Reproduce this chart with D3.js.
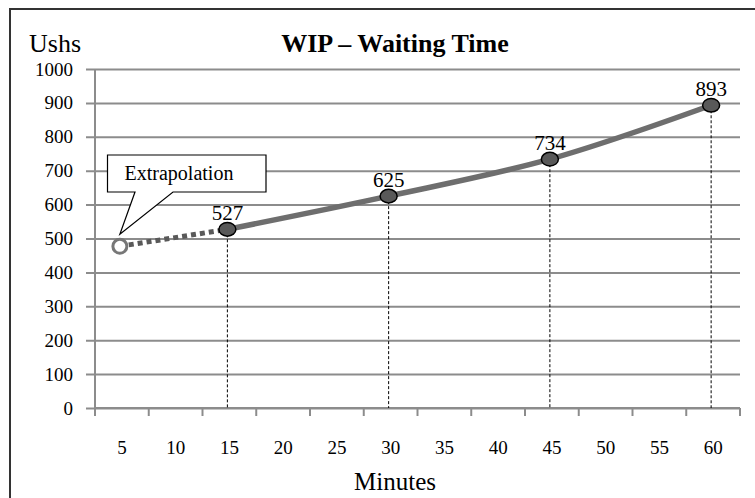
<!DOCTYPE html>
<html>
<head>
<meta charset="utf-8">
<script src="https://cdn.jsdelivr.net/npm/d3@7"></script>
<style>
  body { margin: 0; background: #fff; }
  text { font-family: "Liberation Serif", "Times New Roman", serif; fill: #000; }
</style>
</head>
<body>
<div id="chart"></div>
<script>
// x categories (minutes) and measured points
const minutes = [5, 10, 15, 20, 25, 30, 35, 40, 45, 50, 55, 60];
const pointMinutes = [15, 30, 45, 60];
const pointValues = [527, 625, 734, 893];
// extrapolated start point
const extraMinutes = [5];
const extraValues = [477];
const yTicks = [0, 100, 200, 300, 400, 500, 600, 700, 800, 900, 1000];

const width = 755, height = 498;
const margin = { left: 95, right: 15, top: 69, bottom: 90 };

const svg = d3.select("#chart")
  .append("svg")
  .attr("width", width)
  .attr("height", height);

// outer frame (right and bottom run off the picture)
svg.append("rect")
  .attr("x", 10).attr("y", 9)
  .attr("width", 800).attr("height", 600)
  .attr("fill", "none")
  .attr("stroke", "#333")
  .attr("stroke-width", 2);

const x = d3.scaleBand()
  .domain(minutes)
  .range([margin.left, width - margin.right]);
const y = d3.scaleLinear()
  .domain([0, 1000])
  .range([height - margin.bottom, margin.top]);

const cx = d => x(d) + x.bandwidth() / 2 - 2;

// horizontal gridlines + y ticks
const yAxis = svg.append("g")
  .attr("transform", `translate(${margin.left},0)`)
  .call(d3.axisLeft(y).tickValues(yTicks).tickFormat(d3.format("d")).tickSize(9).tickPadding(13));
yAxis.select(".domain").remove();
yAxis.selectAll(".tick line")
  .attr("stroke", "#8c8c8c").attr("stroke-width", 2)
  .attr("x1", -9)
  .attr("x2", width - margin.right - margin.left);
yAxis.selectAll(".tick text")
  .attr("font-size", 19)
  .attr("font-family", "Liberation Serif, serif");

// y axis line
svg.append("line")
  .attr("x1", margin.left).attr("x2", margin.left)
  .attr("y1", y(1000)).attr("y2", y(0))
  .attr("stroke", "#8c8c8c").attr("stroke-width", 2);

// x axis with ticks between categories
const xAxisG = svg.append("g");
xAxisG.append("line")
  .attr("x1", margin.left).attr("x2", width - margin.right)
  .attr("y1", y(0)).attr("y2", y(0))
  .attr("stroke", "#8c8c8c").attr("stroke-width", 2);
xAxisG.selectAll(".xtick")
  .data(minutes.concat(["end"]))
  .join("line")
  .attr("class", "xtick")
  .attr("x1", d => d === "end" ? width - margin.right : x(d))
  .attr("x2", d => d === "end" ? width - margin.right : x(d))
  .attr("y1", y(0)).attr("y2", y(0) + 8)
  .attr("stroke", "#8c8c8c").attr("stroke-width", 2);
xAxisG.selectAll(".xlab")
  .data(minutes)
  .join("text")
  .attr("class", "xlab")
  .attr("x", d => x(d) + x.bandwidth() / 2)
  .attr("y", 454)
  .attr("text-anchor", "middle")
  .attr("font-size", 19)
  .text(d => d);

// dashed drop lines
svg.selectAll(".drop")
  .data(pointMinutes)
  .join("line")
  .attr("class", "drop")
  .attr("x1", d => cx(d)).attr("x2", d => cx(d))
  .attr("y1", (d, i) => y(pointValues[i])).attr("y2", y(0))
  .attr("stroke", "#000").attr("stroke-width", 1)
  .attr("stroke-dasharray", "3,2");

// extrapolated dotted segment
const extraPts = extraMinutes.map((m, i) => [cx(m), y(extraValues[i])])
  .concat([[cx(pointMinutes[0]), y(pointValues[0])]]);
svg.append("path")
  .attr("d", d3.line()(extraPts))
  .attr("fill", "none")
  .attr("stroke", "#595959")
  .attr("stroke-width", 5)
  .attr("stroke-dasharray", "5,4");

// smoothed measured line
const pts = pointMinutes.map((m, i) => [cx(m), y(pointValues[i])]);
svg.append("path")
  .attr("d", d3.line().curve(d3.curveCatmullRom.alpha(0.5))(pts))
  .attr("fill", "none")
  .attr("stroke", "#6e6e6e")
  .attr("stroke-width", 5.5);

// extrapolated marker (hollow)
svg.selectAll(".xmark")
  .data(extraMinutes)
  .join("circle")
  .attr("class", "xmark")
  .attr("cx", d => cx(d))
  .attr("cy", (d, i) => y(extraValues[i]))
  .attr("r", 7)
  .attr("fill", "#fff")
  .attr("stroke", "#777")
  .attr("stroke-width", 3);

// measured markers
svg.selectAll(".mark")
  .data(pointMinutes)
  .join("ellipse")
  .attr("class", "mark")
  .attr("cx", d => cx(d))
  .attr("cy", (d, i) => y(pointValues[i]))
  .attr("rx", 8.5).attr("ry", 6.8)
  .attr("fill", "#595959")
  .attr("stroke", "#000")
  .attr("stroke-width", 1.5);

svg.selectAll(".vlab")
  .data(pointMinutes)
  .join("text")
  .attr("class", "vlab")
  .attr("x", d => cx(d))
  .attr("y", (d, i) => y(pointValues[i]) - 9)
  .attr("text-anchor", "middle")
  .attr("font-size", 21)
  .text((d, i) => pointValues[i]);

// callout
const tipX = cx(extraMinutes[0]), tipY = y(extraValues[0]) - 12;
svg.append("path")
  .attr("d", `M107.5,155 H266 V192 H173 L${tipX},${tipY} L135,192 H107.5 Z`)
  .attr("fill", "#fff")
  .attr("stroke", "#000")
  .attr("stroke-width", 1.2);
svg.append("text")
  .attr("x", 179).attr("y", 180)
  .attr("text-anchor", "middle")
  .attr("font-size", 20)
  .text("Extrapolation");

// titles
svg.append("text")
  .attr("x", 395).attr("y", 52)
  .attr("text-anchor", "middle")
  .attr("font-size", 26)
  .attr("font-weight", "bold")
  .text("WIP – Waiting Time");
svg.append("text")
  .attr("x", 29).attr("y", 52)
  .attr("font-size", 26)
  .text("Ushs");
svg.append("text")
  .attr("x", 395).attr("y", 490)
  .attr("text-anchor", "middle")
  .attr("font-size", 25)
  .text("Minutes");
</script>
</body>
</html>
